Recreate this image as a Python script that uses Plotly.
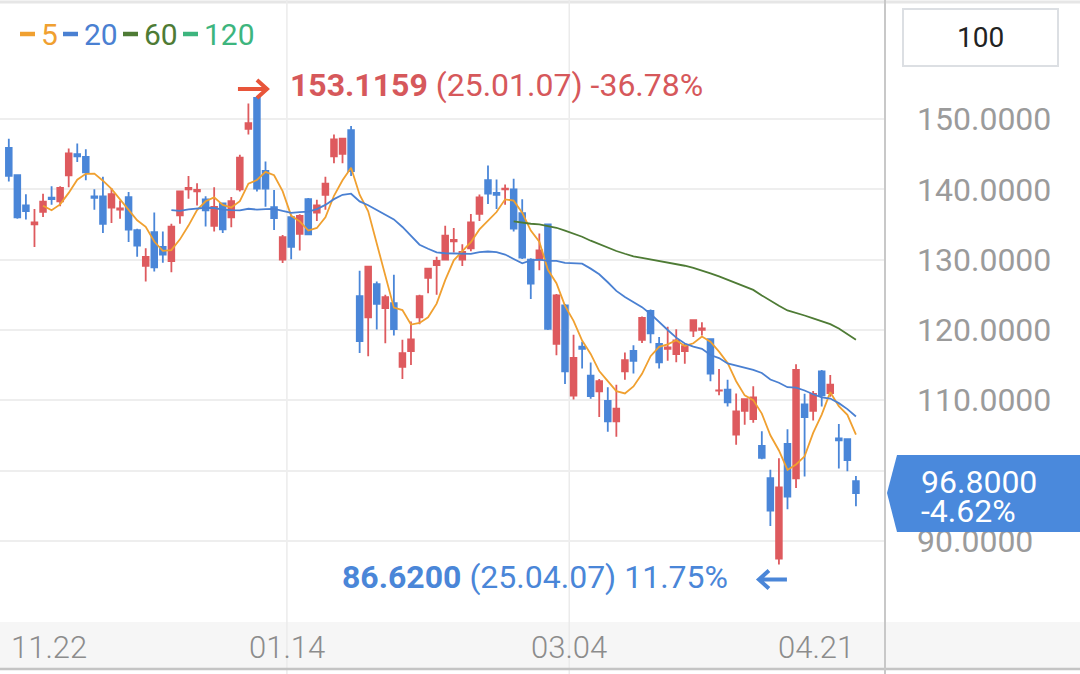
import plotly.graph_objects as go
import pandas as pd

# ---------------- data ----------------
dates = [
    "2024-11-22", "2024-11-25", "2024-11-26", "2024-11-27", "2024-11-29",
    "2024-12-02", "2024-12-03", "2024-12-04", "2024-12-05", "2024-12-06",
    "2024-12-09", "2024-12-10", "2024-12-11", "2024-12-12", "2024-12-13",
    "2024-12-16", "2024-12-17", "2024-12-18", "2024-12-19", "2024-12-20",
    "2024-12-23", "2024-12-24", "2024-12-26", "2024-12-27", "2024-12-30",
    "2024-12-31", "2025-01-02", "2025-01-03", "2025-01-06", "2025-01-07",
    "2025-01-08", "2025-01-10", "2025-01-13", "2025-01-14", "2025-01-15",
    "2025-01-16", "2025-01-17", "2025-01-21", "2025-01-22", "2025-01-23",
    "2025-01-24", "2025-01-27", "2025-01-28", "2025-01-29", "2025-01-30",
    "2025-01-31", "2025-02-03", "2025-02-04", "2025-02-05", "2025-02-06",
    "2025-02-07", "2025-02-10", "2025-02-11", "2025-02-12", "2025-02-13",
    "2025-02-14", "2025-02-18", "2025-02-19", "2025-02-20", "2025-02-21",
    "2025-02-24", "2025-02-25", "2025-02-26", "2025-02-27", "2025-02-28",
    "2025-03-03", "2025-03-04", "2025-03-05", "2025-03-06", "2025-03-07",
    "2025-03-10", "2025-03-11", "2025-03-12", "2025-03-13", "2025-03-14",
    "2025-03-17", "2025-03-18", "2025-03-19", "2025-03-20", "2025-03-21",
    "2025-03-24", "2025-03-25", "2025-03-26", "2025-03-27", "2025-03-28",
    "2025-03-31", "2025-04-01", "2025-04-02", "2025-04-03", "2025-04-04",
    "2025-04-07", "2025-04-08", "2025-04-09", "2025-04-10", "2025-04-11",
    "2025-04-14", "2025-04-15", "2025-04-16", "2025-04-17", "2025-04-21",
]

opens = [
    145.9, 142.0, 137.7, 135.0, 136.8, 138.8, 138.3, 142.0, 145.0, 144.6,
    139.0, 139.0, 137.4, 137.1, 138.9, 134.2, 129.1, 133.9, 131.8, 129.8,
    136.3, 140.0, 139.7, 138.55, 134.8, 138.0, 136.0, 140.0, 148.6, 153.0,
    142.6, 137.45, 130.0, 136.05, 133.65, 138.6, 136.7, 139.2, 144.7, 145.05,
    148.4, 124.8, 121.8, 126.5, 123.1, 123.8, 114.75, 117.0, 121.8, 127.4,
    129.2, 130.0, 132.6, 130.0, 131.6, 136.5, 141.3, 139.5, 140.0, 140.0,
    136.6, 130.0, 130.0, 135.0, 118.0, 123.5, 110.65, 117.6, 113.5, 111.25,
    109.9, 107.0, 114.1, 117.0, 118.6, 122.7, 118.0, 117.3, 116.55, 117.0,
    119.9, 120.0, 118.7, 111.35, 111.5, 105.1, 108.5, 107.3, 103.5, 98.9,
    87.46, 103.8, 98.9, 109.4, 108.5, 114.1, 111.0, 104.55, 104.45, 98.5,
]
highs = [
    147.2, 142.1, 139.3, 137.2, 139.35, 140.45, 140.45, 145.8, 146.5, 145.7,
    140.0, 141.8, 140.2, 138.4, 139.6, 134.4, 131.6, 136.7, 134.0, 135.1,
    139.8, 141.9, 140.85, 139.0, 140.3, 138.1, 138.9, 144.9, 152.2, 153.1159,
    143.95, 139.9, 133.5, 136.4, 136.45, 138.75, 138.5, 141.8, 147.8, 147.2,
    149.0, 128.4, 129.0, 126.9, 125.0, 127.85, 118.6, 121.2, 125.0, 128.8,
    130.4, 134.8, 134.5, 132.2, 136.5, 139.25, 143.4, 141.4, 140.7, 141.5,
    138.6, 130.2, 133.7, 135.0, 125.1, 123.7, 119.3, 118.3, 115.35, 113.0,
    111.85, 112.2, 116.8, 117.8, 121.9, 122.9, 119.0, 120.45, 120.1, 118.0,
    121.5, 121.1, 118.8, 114.45, 112.9, 110.96, 110.2, 111.98, 105.6, 100.1,
    101.75, 105.85, 115.1, 110.9, 111.3, 114.3, 113.6, 106.6, 104.5, 99.2,
]
lows = [
    141.1, 135.8, 135.7, 131.8, 136.05, 137.8, 137.6, 140.3, 143.9, 141.3,
    137.1, 133.8, 135.2, 135.8, 132.5, 130.4, 126.9, 128.3, 129.55, 128.2,
    135.1, 138.65, 137.7, 134.7, 134.0, 133.8, 134.6, 139.7, 147.8, 139.7,
    137.5, 134.2, 129.5, 130.05, 131.3, 133.5, 135.5, 137.1, 143.7, 143.7,
    141.9, 116.7, 116.25, 120.05, 118.1, 119.2, 113.0, 115.0, 120.8, 125.2,
    125.0, 130.0, 131.0, 129.1, 131.2, 135.5, 137.9, 137.2, 137.8, 134.0,
    130.1, 124.4, 128.5, 120.0, 116.4, 112.3, 110.1, 114.5, 110.2, 107.6,
    105.5, 104.8, 112.9, 113.8, 118.15, 118.1, 114.5, 115.6, 115.4, 115.2,
    119.0, 119.2, 112.7, 110.7, 109.1, 103.65, 106.5, 106.8, 101.6, 92.1,
    86.62, 94.5, 97.5, 99.15, 107.1, 109.1, 110.5, 100.3, 99.9, 94.9,
]
closes = [
    141.9, 136.0, 136.9, 135.3, 138.25, 138.6, 140.2, 145.1, 144.7, 142.4,
    138.8, 135.1, 139.3, 137.3, 134.25, 132.0, 130.4, 128.9, 130.7, 134.7,
    139.7, 140.2, 139.9, 137.0, 137.5, 134.3, 138.3, 144.5, 149.4, 140.1,
    140.1, 135.9, 133.2, 131.8, 136.2, 133.6, 137.7, 140.8, 147.1, 147.2,
    142.6, 118.4, 128.99, 123.7, 124.65, 120.1, 116.7, 118.65, 124.8, 128.7,
    129.8, 133.4, 132.8, 131.1, 135.3, 138.85, 139.4, 139.2, 140.1, 134.4,
    130.3, 126.6, 131.3, 120.15, 124.9, 114.1, 116.0, 117.3, 110.6, 112.7,
    107.0, 108.8, 115.7, 115.6, 121.7, 119.5, 115.4, 117.5, 118.5, 117.7,
    121.4, 120.2, 113.8, 111.4, 109.7, 108.4, 110.15, 110.4, 101.8, 94.3,
    97.6, 96.3, 114.3, 107.6, 110.9, 110.7, 112.2, 104.3, 101.49, 96.8,
]

ma_periods = [5, 20, 60, 120]
ma_colors = ["#F0A030", "#4A80D2", "#4E7B35", "#3DB57E"]

y_ticks = [90, 100, 110, 120, 130, 140, 150]
x_tick_dates = ["2024-11-22", "2025-01-14", "2025-03-04", "2025-04-21"]
x_tick_labels = ["11.22", "01.14", "03.04", "04.21"]

# ---------------- styling / geometry ----------------
W, H = 1080, 674
PLOT_RIGHT = 885
PLOT_TOP, PLOT_BOTTOM = 5, 622
STRIP_BOTTOM = 668
UP_COLOR = "#DE5A5E"
DOWN_COLOR = "#4A86D8"
TEXT_RED = "#D6585B"
ARROW_RED = "#E8553A"
TAG_BLUE = "#4A89DC"
NUM_FONT = "Roboto, sans-serif"
LEGEND_DASH_X = [20, 63, 123, 183]   # pixel left edge of each legend dash
LEGEND_DASH_W = 15
LEGEND_Y = 34


def px_x(px):
    return px / W


def px_y(py):
    return 1 - py / H


idx = list(range(len(dates)))
close_s = pd.Series(closes)
last = closes[-1]
prev = closes[-2]

fig = go.Figure()

fig.add_trace(go.Candlestick(
    x=idx, open=opens, high=highs, low=lows, close=closes,
    increasing=dict(line=dict(color=UP_COLOR, width=1.8), fillcolor=UP_COLOR),
    decreasing=dict(line=dict(color=DOWN_COLOR, width=1.8), fillcolor=DOWN_COLOR),
    whiskerwidth=0, hoverinfo="skip", showlegend=False,
))

for p, c in zip(ma_periods, ma_colors):
    ma = close_s.rolling(p).mean()
    fig.add_trace(go.Scatter(
        x=idx, y=ma, mode="lines", line=dict(color=c, width=1.8),
        hoverinfo="skip", showlegend=False,
    ))

# ---------------- axes ----------------
x_lo = (0 - 8.8) / 8.557
x_hi = (PLOT_RIGHT - 8.8) / 8.557
ppu = 7.03  # pixels per price unit
y_lo = 100 - (PLOT_BOTTOM - 470.5) / ppu
y_hi = 100 + (470.5 - PLOT_TOP) / ppu
tag_half = 38.5 / ppu
# the price tag covers the tick label it sits on
y_ticktext = ["" if abs(v - last) < tag_half else "{:.4f}".format(v) for v in y_ticks]

fig.update_layout(
    width=W, height=H,
    margin=dict(l=0, r=0, t=0, b=0),
    paper_bgcolor="white", plot_bgcolor="white",
    font=dict(family="Roboto, sans-serif"),
    showlegend=False,
    boxgap=0.3, boxgroupgap=0.05,
    xaxis=dict(
        domain=[0, px_x(PLOT_RIGHT)], range=[x_lo, x_hi],
        showgrid=False, zeroline=False, showticklabels=False, showline=False,
        rangeslider=dict(visible=False), fixedrange=True,
    ),
    yaxis=dict(
        domain=[px_y(PLOT_BOTTOM), px_y(PLOT_TOP)], range=[y_lo, y_hi],
        side="right", tickvals=y_ticks, ticktext=y_ticktext,
        showgrid=True, gridcolor="#EEEEEE", gridwidth=1.5,
        zeroline=False, showline=False, ticks="",
        tickfont=dict(family=NUM_FONT, size=32, color="#9B9B9B"),
        ticklabelstandoff=31, fixedrange=True,
    ),
)

shapes = []
# top border
shapes.append(dict(type="line", xref="paper", yref="paper", x0=0, x1=1,
                   y0=px_y(2), y1=px_y(2), line=dict(color="#E6E6E6", width=3),
                   layer="below"))
# bottom axis strip
shapes.append(dict(type="rect", xref="paper", yref="paper", x0=0, x1=1,
                   y0=px_y(STRIP_BOTTOM), y1=px_y(PLOT_BOTTOM),
                   fillcolor="#F6F6F6", line=dict(width=0), layer="below"))

# vertical grid lines at middle date ticks (left edge of the candle slot)
tick_pos = [dates.index(d) for d in x_tick_dates]
for k in tick_pos[1:-1]:
    shapes.append(dict(type="line", xref="x", yref="paper", x0=k - 0.5, x1=k - 0.5,
                       y0=0, y1=1, line=dict(color="#EBEBEB", width=1.5), layer="below"))

# bottom line and right divider
shapes.append(dict(type="line", xref="paper", yref="paper", x0=0, x1=1,
                   y0=px_y(STRIP_BOTTOM + 1), y1=px_y(STRIP_BOTTOM + 1),
                   line=dict(color="#C4C4C4", width=2.5), layer="above"))
shapes.append(dict(type="line", xref="paper", yref="paper",
                   x0=px_x(PLOT_RIGHT), x1=px_x(PLOT_RIGHT), y0=0, y1=1,
                   line=dict(color="#C8C8C8", width=2), layer="above"))

# "100" box
shapes.append(dict(type="rect", xref="paper", yref="paper",
                   x0=px_x(903), x1=px_x(1058), y0=px_y(66), y1=px_y(9),
                   fillcolor="white", line=dict(color="#DCDFE3", width=2), layer="above"))

# high / low markers
hi_i = max(idx, key=lambda i: highs[i])
lo_i = min(idx, key=lambda i: lows[i])
hi_v, lo_v = highs[hi_i], lows[lo_i]

shapes.append(dict(type="path", xref="x", yref="y", xsizemode="pixel", ysizemode="pixel",
                   xanchor=hi_i, yanchor=hi_v,
                   path="M -19 8 L 10 8 M 0 17 L 10 8 L 0 -1",
                   line=dict(color=ARROW_RED, width=4), layer="above"))
shapes.append(dict(type="path", xref="x", yref="y", xsizemode="pixel", ysizemode="pixel",
                   xanchor=lo_i, yanchor=lo_v,
                   path="M 8 -15 L -20 -15 M -10 -6 L -20 -15 L -10 -24",
                   line=dict(color=DOWN_COLOR, width=4), layer="above"))

# price tag on the right panel
tag_path = "M {a} 0 L {b} 38 L 1 38 L 1 -39 L {b} -39 Z".format(
    a=px_x(887), b=px_x(897))
shapes.append(dict(type="path", xref="paper", yref="y", ysizemode="pixel",
                   yanchor=last, path=tag_path, fillcolor=TAG_BLUE,
                   line=dict(width=0), layer="above"))

annotations = []

# legend: thick coloured dash + period number
for p, c, dx in zip(ma_periods, ma_colors, LEGEND_DASH_X):
    shapes.append(dict(type="line", xref="paper", yref="paper",
                       x0=px_x(dx), x1=px_x(dx + LEGEND_DASH_W),
                       y0=px_y(LEGEND_Y), y1=px_y(LEGEND_Y),
                       line=dict(color=c, width=4.5), layer="above"))
    annotations.append(dict(xref="paper", yref="paper", x=px_x(dx + LEGEND_DASH_W + 4),
                            y=px_y(LEGEND_Y + 1), xanchor="left", yanchor="middle",
                            text=str(p), showarrow=False,
                            font=dict(family="Roboto", size=30, color=c)))


def fmt_date(d):
    return d[2:4] + "." + d[5:7] + "." + d[8:10]


hi_pct = (last - hi_v) / hi_v * 100
lo_pct = (last - lo_v) / lo_v * 100
annotations.append(dict(
    xref="x", yref="y", x=hi_i, y=hi_v, xanchor="left", yanchor="middle",
    xshift=31, yshift=12, showarrow=False,
    text="<b>{:.4f}</b> ({}) {:.2f}%".format(hi_v, fmt_date(dates[hi_i]), hi_pct),
    font=dict(family=NUM_FONT, size=32, color=TEXT_RED)))
annotations.append(dict(
    xref="x", yref="y", x=lo_i, y=lo_v, xanchor="right", yanchor="middle",
    xshift=-49, yshift=-12, showarrow=False,
    text="<b>{:.4f}</b> ({}) {:.2f}%".format(lo_v, fmt_date(dates[lo_i]), lo_pct),
    font=dict(family=NUM_FONT, size=32, color=DOWN_COLOR)))

# box count
annotations.append(dict(xref="paper", yref="paper", x=px_x(980), y=px_y(38),
                        xanchor="center", yanchor="middle", text=str(len(dates)),
                        showarrow=False, font=dict(family="Roboto", size=28, color="#222222")))

# price tag text
annotations.append(dict(xref="paper", yref="y", x=px_x(919), y=last, yshift=11,
                        xanchor="left", yanchor="middle", text="{:.4f}".format(last),
                        showarrow=False, font=dict(family=NUM_FONT, size=32, color="white")))
annotations.append(dict(xref="paper", yref="y", x=px_x(919), y=last, yshift=-18,
                        xanchor="left", yanchor="middle",
                        text="{:.2f}%".format((last - prev) / prev * 100),
                        showarrow=False, font=dict(family=NUM_FONT, size=32, color="white")))

# date labels in the strip
strip_y = px_y(647)
for n, (k, lab) in enumerate(zip(tick_pos, x_tick_labels)):
    if n == 0:
        xa, xv = "left", k
    elif n == len(tick_pos) - 1:
        xa, xv = "right", k
    else:
        xa, xv = "center", k - 0.5
    annotations.append(dict(xref="x", yref="paper", x=xv, y=strip_y,
                            xanchor=xa, yanchor="middle", text=lab, showarrow=False,
                            font=dict(family=NUM_FONT, size=31, color="#8C8C8C",
                                      weight=300)))

fig.update_layout(shapes=shapes, annotations=annotations)

fig.write_html("out.html", config=dict(displayModeBar=False),
               post_script="document.body.style.margin='0';document.body.style.overflow='hidden';")
